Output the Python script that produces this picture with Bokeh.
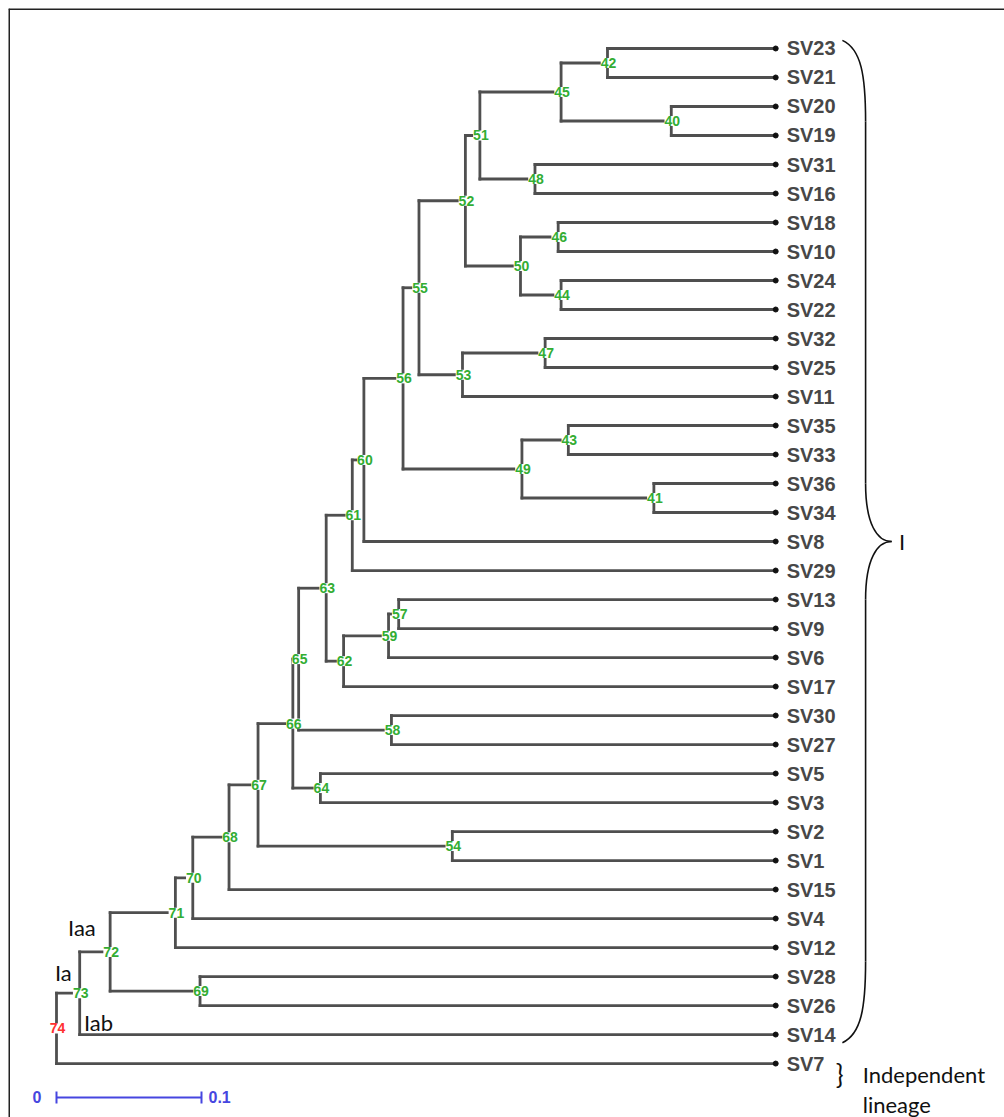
from bokeh.plotting import figure
from bokeh.models import ColumnDataSource, LabelSet, Range1d, Span
from bokeh.core.properties import value, field
from bokeh.embed import file_html
from bokeh.resources import INLINE

# ---------------- data ----------------
leaves = ["SV23", "SV21", "SV20", "SV19", "SV31", "SV16", "SV18", "SV10", "SV24", "SV22",
          "SV32", "SV25", "SV11", "SV35", "SV33", "SV36", "SV34", "SV8", "SV29", "SV13",
          "SV9", "SV6", "SV17", "SV30", "SV27", "SV5", "SV3", "SV2", "SV1", "SV15",
          "SV4", "SV12", "SV28", "SV26", "SV14", "SV7"]
leaf_depth = 0.496

node_labels = ["42", "40", "45", "48", "51", "46", "44", "50", "52", "47",
               "53", "55", "43", "41", "49", "56", "60", "61", "57", "59",
               "62", "63", "58", "65", "64", "66", "54", "67", "68", "70",
               "71", "69", "72", "73", "74"]
node_left = ["SV23", "SV20", "42", "SV31", "45", "SV18", "SV24", "46", "51", "SV32",
             "47", "52", "SV35", "SV36", "43", "55", "56", "60", "SV13", "57",
             "59", "61", "SV30", "63", "SV5", "65", "SV2", "66", "67", "68",
             "70", "SV28", "71", "72", "73"]
node_right = ["SV21", "SV19", "40", "SV16", "48", "SV10", "SV22", "44", "50", "SV25",
              "SV11", "53", "SV33", "SV34", "41", "49", "SV8", "SV29", "SV9", "SV6",
              "SV17", "62", "SV27", "58", "SV3", "64", "SV1", "54", "SV15", "SV4",
              "SV12", "SV26", "69", "SV14", "SV7"]
node_depth = [0.380, 0.424, 0.348, 0.330, 0.292, 0.346, 0.348, 0.320, 0.282, 0.337,
              0.280, 0.250, 0.353, 0.412, 0.321, 0.239, 0.212, 0.204, 0.236, 0.229,
              0.198, 0.186, 0.231, 0.167, 0.182, 0.163, 0.273, 0.139, 0.119, 0.094,
              0.082, 0.099, 0.037, 0.016, 0.000]
root_label = "74"

scale_ticks = [0.0, 0.1]
scale_labels = ["0", "0.1"]

clade_labels = ["Iaa", "Ia", "Iab"]
clade_x = [0.008, -0.001, 0.019]
clade_y = [30.3, 31.85, 33.6]

group_label = "I"
outgroup_label = ["Independent", "lineage"]

# ---------------- layout of tree ----------------
ypos = {name: float(i) for i, name in enumerate(leaves)}
xpos = {name: leaf_depth for name in leaves}
for lab, a, b, d in zip(node_labels, node_left, node_right, node_depth):
    ypos[lab] = (ypos[a] + ypos[b]) / 2.0
    xpos[lab] = d

sx0, sy0, sx1, sy1 = [], [], [], []
for lab, a, b, d in zip(node_labels, node_left, node_right, node_depth):
    sx0.append(d); sy0.append(ypos[a]); sx1.append(d); sy1.append(ypos[b])
    for c in (a, b):
        sx0.append(d); sy0.append(ypos[c]); sx1.append(xpos[c]); sy1.append(ypos[c])

W, H = 1004, 1117
xr = Range1d(-0.0331, 0.6538)
yr = Range1d(36.86, -1.379)
p = figure(width=W, height=H, output_backend="svg", toolbar_location=None,
           x_range=xr, y_range=yr,
           x_axis_location=None, y_axis_location=None,
           min_border=0, min_border_left=8, min_border_right=0,
           min_border_top=8, min_border_bottom=0,
           background_fill_color="white", border_fill_color="white")
p.grid.visible = False
p.outline_line_color = None
# page frame (top and left edges visible in the reference)
p.add_layout(Span(location=xr.start, dimension="height", line_color="#222222", line_width=3))
p.add_layout(Span(location=yr.end, dimension="width", line_color="#222222", line_width=3))

# branches
p.segment(x0=sx0, y0=sy0, x1=sx1, y1=sy1, line_color="#4f4f4f", line_width=2.8,
          line_cap="square")

# leaf dots
n = len(leaves)
p.scatter(x=[leaf_depth] * n, y=list(range(n)), size=5, color="#111111")

# leaf labels
p.text(x=[leaf_depth] * n, y=list(range(n)), text=leaves, x_offset=11,
       text_baseline="middle", text_align="left",
       text_font=value("Liberation Sans"), text_font_size="20px",
       text_font_style="bold", text_color="#474747")

# node labels
node_src = ColumnDataSource(dict(
    x=[xpos[l] for l in node_labels],
    y=[ypos[l] for l in node_labels],
    t=node_labels,
    c=["#ff3030" if l == root_label else "#33ad33" for l in node_labels],
))
p.add_layout(LabelSet(x="x", y="y", text="t", source=node_src, x_offset=1,
                      text_align="center", text_baseline="middle",
                      text_font=value("Liberation Sans"), text_font_size="14px",
                      text_font_style="bold", text_color=field("c"),
                      background_fill_color="white", background_fill_alpha=1.0))

# clade labels
p.text(x=clade_x, y=clade_y, text=clade_labels, text_align="left",
       text_baseline="middle", text_font=value("Lato"), text_font_size="22px",
       text_color="#111111")

# scale bar
scale_y = len(leaves) + 0.17
blue = "#4646e0"
p.segment(x0=[scale_ticks[0]], y0=[scale_y], x1=[scale_ticks[1]], y1=[scale_y],
          line_color=blue, line_width=2)
p.segment(x0=scale_ticks, y0=[scale_y - 0.21] * 2, x1=scale_ticks, y1=[scale_y + 0.21] * 2,
          line_color=blue, line_width=2)
p.text(x=[scale_ticks[0]], y=[scale_y], text=[scale_labels[0]], x_offset=-15,
       text_align="right", text_baseline="middle", text_font=value("Liberation Sans"),
       text_font_size="16px", text_font_style="bold", text_color=blue)
p.text(x=[scale_ticks[1]], y=[scale_y], text=[scale_labels[1]], x_offset=7,
       text_align="left", text_baseline="middle", text_font=value("Liberation Sans"),
       text_font_size="16px", text_font_style="bold", text_color=blue)

# big brace for group I (from first leaf to SV14)
tip = leaf_depth
bx0, bx1, bx2 = tip + 0.046, tip + 0.062, tip + 0.080
yt = ypos[leaves[0]] - 0.28
yb = ypos["SV14"] + 0.28
ym = (yt + yb) / 2.0
p.bezier(x0=[bx0, bx1, bx2, bx1], y0=[yt, ym - 2.0, ym, yb - 2.8],
         x1=[bx1, bx2, bx1, bx0], y1=[yt + 2.8, ym, ym + 2.0, yb],
         cx0=[bx0 + 0.013, bx1, bx1 + 0.008, bx1], cy0=[yt + 0.3, ym - 0.6, ym, yb - 1.2],
         cx1=[bx1, bx1 + 0.008, bx1, bx0 + 0.013], cy1=[yt + 1.2, ym, ym + 0.6, yb - 0.3],
         line_color="#111111", line_width=1.6)
p.segment(x0=[bx1, bx1], y0=[yt + 2.8, ym + 2.0], x1=[bx1, bx1], y1=[ym - 2.0, yb - 2.8],
          line_color="#111111", line_width=1.6)
p.text(x=[tip + 0.085], y=[ym], text=[group_label], text_align="left",
       text_baseline="middle", text_font=value("Lato"), text_font_size="22px",
       text_color="#111111")

# outgroup brace and label
y7 = ypos["SV7"]
p.text(x=[tip + 0.0415], y=[y7 + 0.35], text=["}"], text_align="left",
       text_baseline="middle", text_font=value("Lato"), text_font_size="26px",
       text_color="#111111")
p.text(x=[tip + 0.060], y=[y7 + 0.38], text=[outgroup_label[0]],
       text_align="left", text_baseline="middle", text_font=value("Lato"),
       text_font_size="22px", text_color="#111111")
p.text(x=[tip + 0.060], y=[y7 + 1.40], text=[outgroup_label[1]],
       text_align="left", text_baseline="middle", text_font=value("Lato"),
       text_font_size="22px", text_color="#111111")

open("out.html", "w").write(file_html(p, INLINE))
